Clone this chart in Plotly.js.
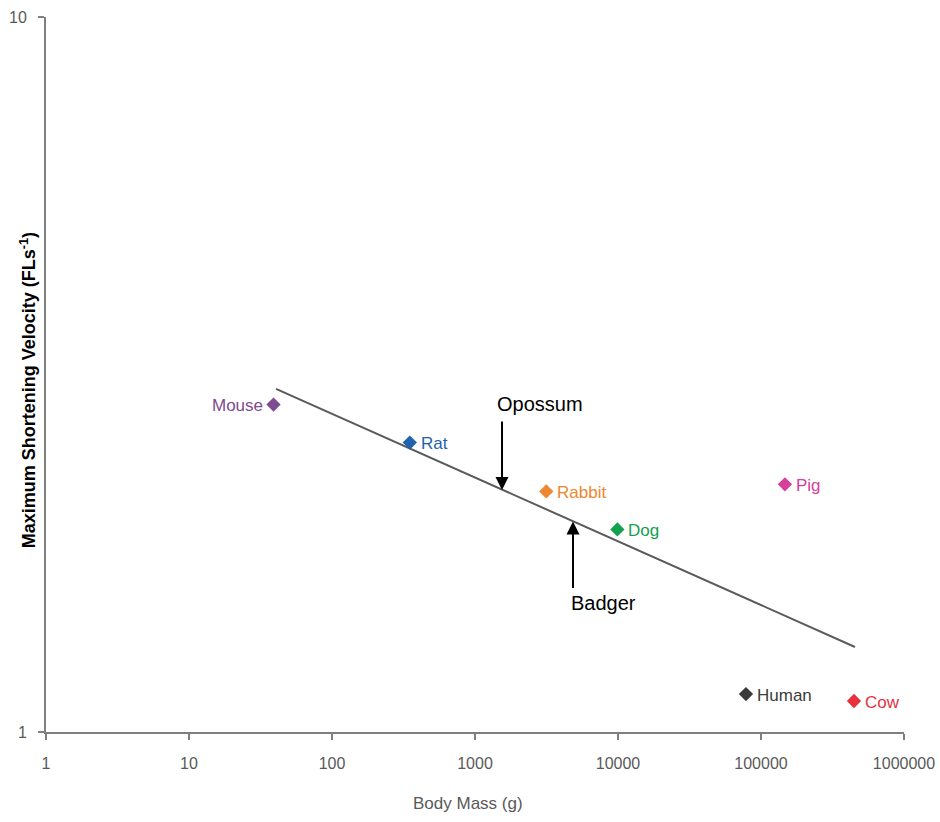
<!DOCTYPE html>
<html>
<head>
<meta charset="utf-8">
<script src="https://cdn.plot.ly/plotly-3.0.1.min.js"></script>
<style>html,body{margin:0;padding:0;background:#fff;}#chart{width:940px;height:822px;}</style>
</head>
<body>
<div id="chart"></div>
<script>
// Data (body mass in g, max shortening velocity in FL/s)
const species = ["Mouse", "Rat", "Rabbit", "Dog", "Pig", "Human", "Cow"];
const bodyMass = [39, 350, 3150, 9900, 147000, 78500, 447000];
const velocity = [2.87, 2.54, 2.17, 1.92, 2.22, 1.13, 1.105];
const colors = ["#7e4a92", "#1f62ae", "#ef8630", "#14a04f", "#d5409a", "#3b3b3b", "#e6323e"];
const labelSide = ["left", "right", "right", "right", "right", "right", "right"];

// Regression line end points
const fitMass = [40.6, 454000];
const fitVelocity = [3.02, 1.315];

// Arrow annotations (point on line)
const arrowNames = ["Opossum", "Badger"];
const arrowMass = [1545, 4845];
const arrowVelocity = [2.18, 1.97];

const xTicks = [1, 10, 100, 1000, 10000, 100000, 1000000];
const xTickText = ["1", "10", "100", "1000", "10000", "100000", "1000000"];
const yTicks = [1, 10];
const yTickText = ["1", "10"];

const font = "Liberation Sans, Arial, Helvetica, sans-serif";

const traces = [
  {
    x: fitMass, y: fitVelocity, type: "scatter", mode: "lines",
    line: {color: "#5a5a5a", width: 2}, hoverinfo: "skip", showlegend: false
  },
  {
    x: bodyMass, y: velocity, type: "scatter", mode: "markers",
    marker: {symbol: "diamond", size: 11, color: colors},
    showlegend: false
  }
];

const annotations = [];
species.forEach((s, i) => {
  const left = labelSide[i] === "left";
  annotations.push({
    x: Math.log10(bodyMass[i]), y: Math.log10(velocity[i]), xref: "x", yref: "y",
    text: s, showarrow: false, xanchor: left ? "right" : "left", yanchor: "middle",
    xshift: left ? -9 : 9, yshift: -1,
    font: {family: font, size: 17, color: colors[i]}
  });
});
arrowNames.forEach((n, i) => {
  const up = i === 0;
  annotations.push({
    x: Math.log10(arrowMass[i]), y: Math.log10(arrowVelocity[i]), xref: "x", yref: "y",
    text: "", showarrow: true, arrowhead: 2, arrowsize: 1.3, arrowwidth: 2, arrowcolor: "#000",
    ax: 0, ay: up ? -70 : 68, standoff: 0
  });
  annotations.push({
    x: Math.log10(arrowMass[i]), y: Math.log10(arrowVelocity[i]), xref: "x", yref: "y",
    text: n, showarrow: false, font: {family: font, size: 20, color: "#000"},
    xshift: up ? 38 : 30, yshift: up ? 86 : -82
  });
});
annotations.push({
  xref: "paper", yref: "paper", x: -0.021, y: 0.478, xanchor: "center", yanchor: "middle",
  textangle: -90, showarrow: false,
  text: "<b>Maximum Shortening Velocity (FLs<sup>-1</sup>)</b>",
  font: {family: font, size: 18, color: "#000"}
});
annotations.push({
  xref: "paper", yref: "paper", x: 0.492, y: -0.1, xanchor: "center", yanchor: "middle",
  showarrow: false, text: "Body Mass (g)",
  font: {family: font, size: 17, color: "#595959"}
});

const layout = {
  width: 940, height: 822,
  margin: {l: 46, r: 36, t: 17, b: 90},
  paper_bgcolor: "#fff", plot_bgcolor: "#fff",
  font: {family: font, color: "#595959"},
  xaxis: {
    type: "log", range: [0, 6], tickvals: xTicks, ticktext: xTickText,
    showgrid: false, zeroline: false, showline: true, linecolor: "#7f7f7f", linewidth: 2,
    ticks: "outside", ticklen: 6, tickwidth: 2, tickcolor: "#7f7f7f",
    ticklabelstandoff: 10,
    tickfont: {family: font, size: 16, color: "#595959"}
  },
  yaxis: {
    type: "log", range: [0, 1], tickvals: yTicks, ticktext: yTickText,
    showgrid: false, zeroline: false, showline: true, linecolor: "#7f7f7f", linewidth: 2,
    ticks: "outside", ticklen: 6, tickwidth: 2, tickcolor: "#7f7f7f",
    ticklabelstandoff: 8,
    tickfont: {family: font, size: 16, color: "#595959"}
  },
  annotations: annotations,
  showlegend: false
};

Plotly.newPlot("chart", traces, layout, {displayModeBar: false, staticPlot: true});
</script>
</body>
</html>
